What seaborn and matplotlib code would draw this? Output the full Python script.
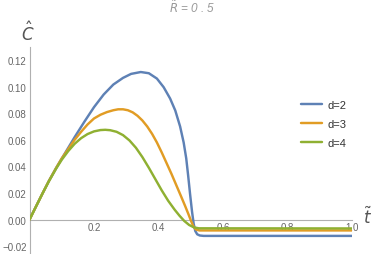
import numpy as np
import pandas as pd
import matplotlib
matplotlib.use("Agg")
import matplotlib.pyplot as plt
from matplotlib.ticker import MultipleLocator, FixedLocator
import seaborn as sns

# ---- data ----
t_d2 = [0.0, 0.02, 0.04, 0.06, 0.083, 0.114, 0.14, 0.17, 0.20, 0.23, 0.26, 0.29, 0.315,
        0.345, 0.37, 0.395, 0.416, 0.436, 0.452, 0.467, 0.478, 0.486, 0.492, 0.498,
        0.504, 0.509, 0.514, 0.520, 0.528, 0.54, 1.0]
c_d2 = [0.0, 0.0098, 0.0195, 0.029, 0.039, 0.0515, 0.062, 0.0735, 0.0845, 0.094, 0.1015, 0.1065, 0.1095,
        0.1109, 0.1100, 0.1060, 0.0995, 0.0910, 0.0820, 0.0700, 0.0580, 0.0460, 0.0330, 0.0190,
        0.0060, -0.0030, -0.0085, -0.0110, -0.0119, -0.0122, -0.0122]

t_d3 = [0.0, 0.02, 0.04, 0.06, 0.083, 0.10, 0.12, 0.14, 0.16, 0.18, 0.20, 0.22, 0.24, 0.26,
        0.275, 0.29, 0.305, 0.32, 0.335, 0.35, 0.365, 0.38, 0.395, 0.41, 0.425, 0.44, 0.455,
        0.47, 0.483, 0.493, 0.501, 0.509, 0.517, 0.527, 1.0]
c_d3 = [0.0, 0.0098, 0.0195, 0.029, 0.039, 0.046, 0.0530, 0.0600, 0.0660, 0.0715, 0.0760, 0.0788, 0.0808, 0.0822,
        0.0829, 0.0829, 0.0822, 0.0806, 0.0780, 0.0745, 0.0700, 0.0645, 0.0580, 0.0505, 0.0425, 0.0345, 0.0260,
        0.0175, 0.0100, 0.0040, -0.0010, -0.0055, -0.0075, -0.0081, -0.0081]

t_d4 = [0.0, 0.02, 0.04, 0.06, 0.083, 0.10, 0.12, 0.14, 0.16, 0.18, 0.20, 0.22, 0.235, 0.25,
        0.27, 0.29, 0.31, 0.33, 0.35, 0.37, 0.39, 0.41, 0.43, 0.45, 0.465, 0.48, 0.495, 0.51,
        0.525, 1.0]
c_d4 = [0.0, 0.0098, 0.0195, 0.0288, 0.0385, 0.045, 0.0515, 0.0570, 0.0612, 0.0643, 0.0663, 0.0673, 0.0675, 0.0672,
        0.0660, 0.0635, 0.0595, 0.0540, 0.0470, 0.0390, 0.0305, 0.0220, 0.0142, 0.0075, 0.0030, -0.0010, -0.0040, -0.0058,
        -0.0065, -0.0066]

labels = ["d=2", "d=3", "d=4"]
colors = ["#5E81B5", "#E19C24", "#8FB032"]

x_ticks = [0.2, 0.4, 0.6, 0.8, 1.0]
y_ticks = [-0.02, 0.0, 0.02, 0.04, 0.06, 0.08, 0.10, 0.12]

df = pd.concat([
    pd.DataFrame({"t": t_d2, "C": c_d2, "series": labels[0]}),
    pd.DataFrame({"t": t_d3, "C": c_d3, "series": labels[1]}),
    pd.DataFrame({"t": t_d4, "C": c_d4, "series": labels[2]}),
], ignore_index=True)

sns.set_style("white")
plt.rcParams["font.family"] = ["Liberation Sans", "DejaVu Sans"]

fig = plt.figure(figsize=(3.74, 2.55), dpi=100)
ax = fig.add_axes([29.5 / 374, 0.0, (352 - 29.5) / 374, (255 - 47.6) / 255])

sns.lineplot(data=df, x="t", y="C", hue="series", palette=colors, sort=False,
             linewidth=1.75, ax=ax, legend=True, zorder=3)
for ln in ax.get_lines():
    ln.set_solid_joinstyle("round")
    ln.set_solid_capstyle("round")

ax.set_xlim(0, 1.0)
ax.set_ylim(-0.0258, 0.130)

for s in ["top", "right"]:
    ax.spines[s].set_visible(False)
ax.spines["left"].set_position(("data", 0))
ax.spines["bottom"].set_position(("data", 0))
for s in ["left", "bottom"]:
    ax.spines[s].set_color("#b0b0b0")
    ax.spines[s].set_linewidth(0.8)

ax.xaxis.set_major_locator(FixedLocator(x_ticks))
ax.xaxis.set_minor_locator(MultipleLocator(0.05))
ax.yaxis.set_major_locator(FixedLocator(y_ticks))
ax.yaxis.set_minor_locator(MultipleLocator(0.005))
ax.set_xticklabels([f"{v:.1f}" for v in x_ticks])
ax.set_yticklabels([("\u2212" + f"{abs(v):.2f}") if v < 0 else f"{v:.2f}" for v in y_ticks])
ax.tick_params(axis="both", which="major", direction="in", length=4, width=0.7,
               color="#b0b0b0", labelsize=7, labelcolor="#666666", pad=2)
ax.tick_params(axis="both", which="minor", direction="in", length=2, width=0.5,
               color="#c0c0c0")
for lab in ax.get_xticklabels():
    lab.set_zorder(1)
ax.set_xlabel("")
ax.set_ylabel("")

leg = ax.legend(frameon=False, fontsize=8, handlelength=1.9, handletextpad=0.55,
                labelspacing=0.82, borderpad=0, loc="center left",
                bbox_to_anchor=(295 / 374, (255 - 125) / 255),
                bbox_transform=fig.transFigure)
for txt in leg.get_texts():
    txt.set_color("#333333")
for line in leg.get_lines():
    line.set_linewidth(1.75)

fig.text(192 / 374, 1 - 8 / 255, r"$\tilde{R}$" + " = 0 . 5", ha="center", va="center",
         fontsize=8.5, color="#999999", style="italic")
fig.text(27.5 / 374, 1 - 32 / 255, r"$\hat{C}$", ha="center", va="center",
         fontsize=12, color="#555555")
fig.text(368 / 374, 1 - 216 / 255, r"$\tilde{t}$", ha="center", va="center",
         fontsize=12, color="#555555")

fig.savefig("out.png", dpi=100)
